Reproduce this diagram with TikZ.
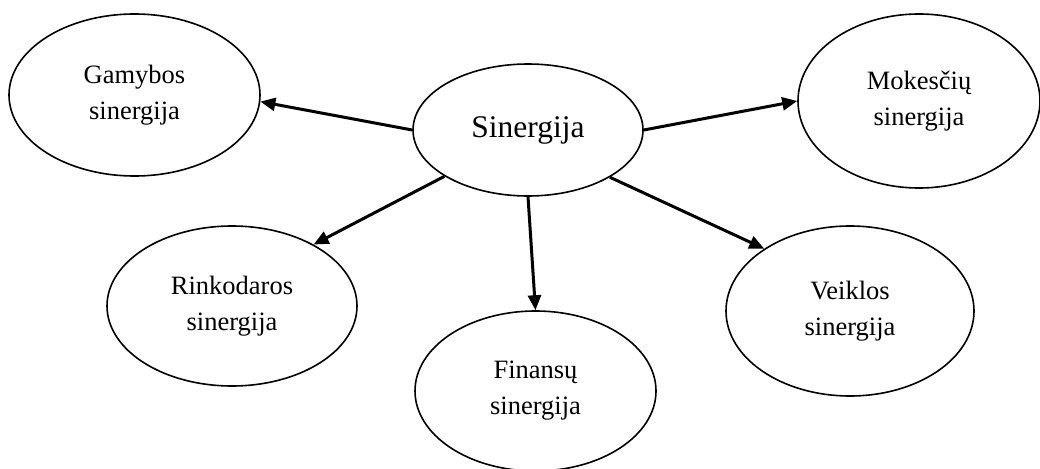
\documentclass[tikz,border=0pt]{standalone}
\usepackage{fontspec}
\setmainfont{Liberation Serif}
\usetikzlibrary{shapes.geometric,arrows.meta}
\begin{document}
\begin{tikzpicture}[x=1pt,y=-1pt,
  bubble/.style={ellipse,draw,line width=1.6pt,inner sep=0pt,align=center,
    font=\fontsize{26.5}{36}\selectfont},
  link/.style={line width=3pt,-{Triangle[length=15pt,width=13pt]}}]
\useasboundingbox (0,0) rectangle (1040,468);
\node[bubble,minimum width=230pt,minimum height=132pt,font=\fontsize{31.5}{36}\selectfont] (c) at (528,130) {Sinergija};
\node[bubble,minimum width=251pt,minimum height=162pt] (g) at (134.5,95) {Gamybos\\sinergija};
\node[bubble,minimum width=242pt,minimum height=174pt] (m) at (919,101) {Mokesčių\\sinergija};
\node[bubble,minimum width=250pt,minimum height=160pt] (r) at (232,306) {Rinkodaros\\sinergija};
\node[bubble,minimum width=241pt,minimum height=160pt] (f) at (535.5,391) {Finansų\\sinergija};
\node[bubble,minimum width=248pt,minimum height=170pt] (v) at (850,311) {Veiklos\\sinergija};
\draw[link] (c.180) -- (g.-3);
\draw[link] (c.0) -- (m.180);
\draw[link] (c.209.5) -- (r.37.3);
\draw[link] (c.270) -- (f.90);
\draw[link] (c.330.8) -- (v.144.5);
\end{tikzpicture}
\end{document}
